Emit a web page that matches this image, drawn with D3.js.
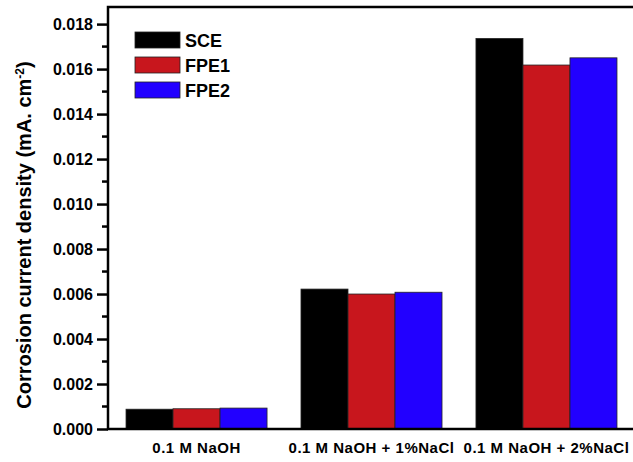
<!DOCTYPE html>
<html>
<head>
<meta charset="utf-8">
<script src="https://cdn.jsdelivr.net/npm/d3@7"></script>
<style>
  body { margin: 0; background: #fff; }
  text { font-family: "Liberation Sans", Arial, sans-serif; font-weight: bold; }
</style>
</head>
<body>
<script>
const width = 633;
const height = 462;

const categories = ['0.1 M NaOH', '0.1 M NaOH + 1%NaCl', '0.1 M NaOH + 2%NaCl'];
const series = ['SCE', 'FPE1', 'FPE2'];
const sce = [0.00088, 0.00622, 0.01736];
const fpe1 = [0.00090, 0.00600, 0.01618];
const fpe2 = [0.00093, 0.00608, 0.01650];
const colors = ['#000000', '#c8161d', '#2200ff'];
const yTicks = [0, 0.002, 0.004, 0.006, 0.008, 0.010, 0.012, 0.014, 0.016, 0.018];

const margin = { top: 7, right: -2, bottom: 33, left: 108 };

function main() {
  const svg = d3.select('body').append('svg').attr('width', width).attr('height', height);
  const values = [sce, fpe1, fpe2];

  const x = d3.scaleBand()
    .domain(categories)
    .range([margin.left, width - margin.right])
    .paddingInner(0.194)
    .paddingOuter(0.103);
  const xs = d3.scaleBand().domain(series).range([0, x.bandwidth()]);
  const y = d3.scaleLinear().domain([0, 0.01876]).range([height - margin.bottom, margin.top]);

  const groups = svg.append('g')
    .selectAll('g')
    .data(categories)
    .join('g')
    .attr('transform', d => `translate(${x(d)},0)`);

  groups.selectAll('rect')
    .data((d, i) => series.map((s, j) => ({ s, v: values[j][i], c: colors[j] })))
    .join('rect')
    .attr('x', d => xs(d.s))
    .attr('y', d => y(d.v))
    .attr('width', xs.bandwidth())
    .attr('height', d => y(0) - y(d.v))
    .attr('fill', d => d.c)
    .attr('stroke', '#222')
    .attr('stroke-width', 0.8);

  // frame
  svg.append('rect')
    .attr('x', margin.left)
    .attr('y', margin.top)
    .attr('width', width - margin.right - margin.left)
    .attr('height', y(0) - margin.top)
    .attr('fill', 'none')
    .attr('stroke', '#000')
    .attr('stroke-width', 2.5);

  // y axis
  const minor = d3.range(0.001, 0.018, 0.002);
  svg.append('g').selectAll('line')
    .data(minor)
    .join('line')
    .attr('x1', margin.left - 6).attr('x2', margin.left)
    .attr('y1', d => y(d)).attr('y2', d => y(d))
    .attr('stroke', '#000').attr('stroke-width', 2.5);

  const yAxis = d3.axisLeft(y).tickValues(yTicks).tickFormat(d3.format('.3f')).tickSize(11).tickPadding(4);
  const ya = svg.append('g').attr('transform', `translate(${margin.left},0)`).call(yAxis);
  ya.select('.domain').remove();
  ya.selectAll('line').attr('stroke-width', 2.5);
  ya.selectAll('text').attr('font-size', 16).attr('fill', '#000');

  // x axis
  const xAxis = d3.axisBottom(x).tickSize(0).tickPadding(13);
  const xa = svg.append('g').attr('transform', `translate(0,${y(0)})`).call(xAxis);
  xa.select('.domain').remove();
  xa.selectAll('text').attr('font-size', 15).attr('letter-spacing', 0.5).attr('fill', '#000');

  // axis title
  const title = svg.append('text')
    .attr('transform', `translate(31,${(margin.top + y(0)) / 2 + 17}) rotate(-90)`)
    .attr('text-anchor', 'middle')
    .attr('font-size', 20)
    .attr('fill', '#000');
  title.append('tspan').text('Corrosion current density (mA. cm');
  title.append('tspan').text('-2').attr('font-size', 12).attr('baseline-shift', 'super');
  title.append('tspan').text(')');

  // legend
  const legend = svg.append('g').attr('transform', 'translate(135,32)');
  const item = legend.selectAll('g')
    .data(series)
    .join('g')
    .attr('transform', (d, i) => `translate(0,${i * 25})`);
  item.append('rect')
    .attr('width', 45).attr('height', 16)
    .attr('fill', (d, i) => colors[i])
    .attr('stroke', '#222').attr('stroke-width', 0.8);
  item.append('text')
    .attr('x', 50).attr('y', 15)
    .attr('font-size', 18)
    .attr('fill', '#000')
    .text(d => d);
}

main();
</script>
</body>
</html>
